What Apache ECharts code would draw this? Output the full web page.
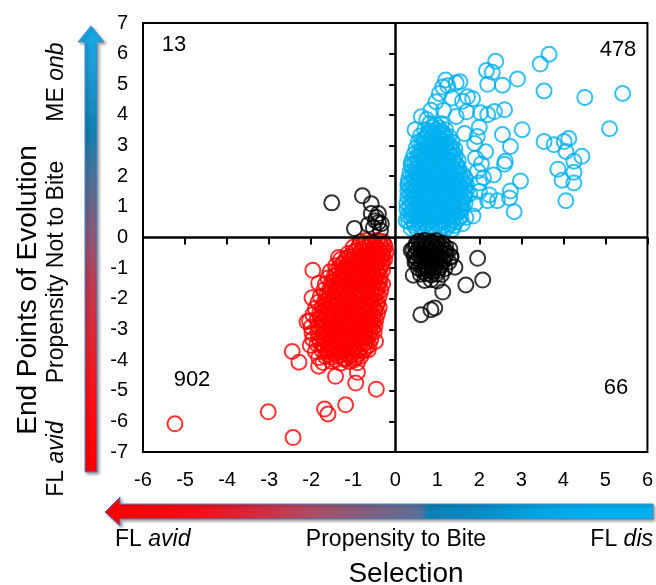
<!DOCTYPE html>
<html>
<head>
<meta charset="utf-8">
<script src="https://cdn.jsdelivr.net/npm/echarts@6.0.0/dist/echarts.min.js"></script>
<style>
  html, body { margin: 0; padding: 0; background: #fff; }
  #chart { width: 656px; height: 585px; }
</style>
</head>
<body>
<div id="chart"></div>
<script>
// axis ticks
const xTicks = [-6, -5, -4, -3, -2, -1, 0, 1, 2, 3, 4, 5, 6]
const yTicks = [-7, -6, -5, -4, -3, -2, -1, 0, 1, 2, 3, 4, 5, 6, 7]

// quadrant counts (upper-left, upper-right, lower-left, lower-right)
const quadrantCounts = ['13', '478', '902', '66']

// red: lower-left quadrant
const redPoints = [
  [-5.24, -6.08], [-3.02, -5.69], [-2.43, -6.53], [-1.68, -5.6], [-1.6, -5.76], [-1.18, -5.46],
  [-0.45, -4.95], [-0.94, -4.75], [-0.9, -4.4], [-2.45, -3.72], [-2.29, -4.07], [-1.96, -1.07],
  [-1.82, -1.49], [-1.98, -1.97], [-2.1, -2.75], [-1.42, -4.53], [-1.82, -4.2], [-0.47, -3.39],
  [-1.35, -0.65],
  [-0.82, -0.14], [-0.68, -0.1], [-0.55, -0.15], [-0.42, -0.09], [-0.3, -0.13],
  [-1.0, -0.32], [-0.86, -0.28], [-0.72, -0.33], [-0.6, -0.27], [-0.47, -0.31], [-0.34, -0.26], [-0.24, -0.3],
  [-1.12, -0.52], [-0.98, -0.47], [-0.84, -0.53], [-0.7, -0.49], [-0.57, -0.51], [-0.44, -0.46], [-0.31, -0.52], [-0.22, -0.48],
  [-1.3, -0.72], [-1.16, -0.68], [-1.02, -0.71], [-0.88, -0.67], [-0.74, -0.73], [-0.61, -0.69], [-0.48, -0.72], [-0.36, -0.68], [-0.25, -0.71],
  [-1.42, -0.92], [-1.27, -0.88], [-1.13, -0.91], [-0.99, -0.87], [-0.85, -0.93], [-0.71, -0.89], [-0.58, -0.92], [-0.45, -0.88], [-0.32, -0.91],
  [-1.55, -1.12], [-1.4, -1.08], [-1.25, -1.11], [-1.1, -1.07], [-0.96, -1.13], [-0.82, -1.09], [-0.68, -1.12], [-0.55, -1.08], [-0.42, -1.11], [-0.3, -1.07],
  [-1.6, -1.32], [-1.46, -1.28], [-1.32, -1.31], [-1.18, -1.27], [-1.04, -1.33], [-0.9, -1.29], [-0.76, -1.32], [-0.62, -1.28], [-0.49, -1.31], [-0.36, -1.27],
  [-1.66, -1.52], [-1.52, -1.48], [-1.38, -1.51], [-1.24, -1.47], [-1.1, -1.53], [-0.96, -1.49], [-0.82, -1.52], [-0.68, -1.48], [-0.54, -1.51], [-0.4, -1.47], [-0.3, -1.52],
  [-1.7, -1.72], [-1.56, -1.68], [-1.42, -1.71], [-1.28, -1.67], [-1.14, -1.73], [-1.0, -1.69], [-0.86, -1.72], [-0.72, -1.68], [-0.58, -1.71], [-0.45, -1.67], [-0.34, -1.72],
  [-1.78, -1.92], [-1.62, -1.88], [-1.48, -1.91], [-1.34, -1.87], [-1.2, -1.93], [-1.06, -1.89], [-0.92, -1.92], [-0.78, -1.88], [-0.64, -1.91], [-0.5, -1.87], [-0.38, -1.92],
  [-1.84, -2.12], [-1.68, -2.08], [-1.54, -2.11], [-1.4, -2.07], [-1.26, -2.13], [-1.12, -2.09], [-0.98, -2.12], [-0.84, -2.08], [-0.7, -2.11], [-0.56, -2.07], [-0.42, -2.12],
  [-1.9, -2.32], [-1.74, -2.28], [-1.6, -2.31], [-1.46, -2.27], [-1.32, -2.33], [-1.18, -2.29], [-1.04, -2.32], [-0.9, -2.28], [-0.76, -2.31], [-0.62, -2.27], [-0.48, -2.32], [-0.38, -2.28],
  [-1.96, -2.52], [-1.8, -2.48], [-1.66, -2.51], [-1.52, -2.47], [-1.38, -2.53], [-1.24, -2.49], [-1.1, -2.52], [-0.96, -2.48], [-0.82, -2.51], [-0.68, -2.47], [-0.54, -2.52], [-0.42, -2.48],
  [-2.04, -2.72], [-1.86, -2.68], [-1.7, -2.71], [-1.56, -2.67], [-1.42, -2.73], [-1.28, -2.69], [-1.14, -2.72], [-1.0, -2.68], [-0.86, -2.71], [-0.72, -2.67], [-0.58, -2.72], [-0.46, -2.68],
  [-2.0, -2.92], [-1.84, -2.88], [-1.7, -2.91], [-1.56, -2.87], [-1.42, -2.93], [-1.28, -2.89], [-1.14, -2.92], [-1.0, -2.88], [-0.86, -2.91], [-0.72, -2.87], [-0.6, -2.92], [-0.48, -2.88],
  [-1.98, -3.12], [-1.84, -3.08], [-1.7, -3.11], [-1.56, -3.07], [-1.42, -3.13], [-1.28, -3.09], [-1.14, -3.12], [-1.0, -3.08], [-0.86, -3.11], [-0.72, -3.07], [-0.6, -3.12], [-0.5, -3.08],
  [-1.96, -3.32], [-1.82, -3.28], [-1.68, -3.31], [-1.54, -3.27], [-1.4, -3.33], [-1.26, -3.29], [-1.12, -3.32], [-0.98, -3.28], [-0.84, -3.31], [-0.7, -3.27], [-0.58, -3.32],
  [-2.02, -3.52], [-1.86, -3.48], [-1.72, -3.51], [-1.58, -3.47], [-1.44, -3.53], [-1.3, -3.49], [-1.16, -3.52], [-1.02, -3.48], [-0.88, -3.51], [-0.74, -3.47], [-0.62, -3.52],
  [-1.9, -3.72], [-1.74, -3.68], [-1.6, -3.71], [-1.46, -3.67], [-1.32, -3.73], [-1.18, -3.69], [-1.04, -3.72], [-0.9, -3.68], [-0.76, -3.71], [-0.64, -3.67],
  [-1.82, -3.92], [-1.66, -3.88], [-1.5, -3.91], [-1.36, -3.87], [-1.22, -3.93], [-1.08, -3.89], [-0.94, -3.92], [-0.82, -3.88],
  [-1.72, -4.08], [-1.52, -4.04], [-1.3, -4.1], [-1.1, -4.05], [-0.9, -4.09],
  [-0.75, -0.22], [-0.61, -0.21], [-0.48, -0.23], [-0.36, -0.2], [-0.26, -0.22],
  [-0.93, -0.42], [-0.79, -0.4], [-0.65, -0.43], [-0.52, -0.41], [-0.39, -0.42], [-0.28, -0.4],
  [-1.09, -0.62], [-0.95, -0.6], [-0.81, -0.63], [-0.67, -0.61], [-0.54, -0.62], [-0.41, -0.6], [-0.3, -0.63],
  [-1.23, -0.82], [-1.09, -0.8], [-0.95, -0.83], [-0.81, -0.81], [-0.67, -0.82], [-0.54, -0.8], [-0.41, -0.83], [-0.3, -0.81],
  [-1.33, -1.02], [-1.19, -1.0], [-1.05, -1.03], [-0.91, -1.01], [-0.77, -1.02], [-0.63, -1.0], [-0.5, -1.03], [-0.37, -1.01],
  [-1.4, -1.22], [-1.26, -1.2], [-1.12, -1.23], [-0.98, -1.21], [-0.84, -1.22], [-0.7, -1.2], [-0.56, -1.23], [-0.43, -1.21],
  [-1.45, -1.42], [-1.31, -1.4], [-1.17, -1.43], [-1.03, -1.41], [-0.89, -1.42], [-0.75, -1.4], [-0.61, -1.43], [-0.47, -1.41], [-0.36, -1.42],
  [-1.5, -1.62], [-1.36, -1.6], [-1.22, -1.63], [-1.08, -1.61], [-0.94, -1.62], [-0.8, -1.6], [-0.66, -1.63], [-0.52, -1.61], [-0.4, -1.62],
  [-1.55, -1.82], [-1.41, -1.8], [-1.27, -1.83], [-1.13, -1.81], [-0.99, -1.82], [-0.85, -1.8], [-0.71, -1.83], [-0.57, -1.81], [-0.44, -1.82],
  [-1.6, -2.02], [-1.46, -2.0], [-1.32, -2.03], [-1.18, -2.01], [-1.04, -2.02], [-0.9, -2.0], [-0.76, -2.03], [-0.62, -2.01], [-0.49, -2.02],
  [-1.66, -2.22], [-1.52, -2.2], [-1.38, -2.23], [-1.24, -2.21], [-1.1, -2.22], [-0.96, -2.2], [-0.82, -2.23], [-0.68, -2.21], [-0.55, -2.22], [-0.44, -2.2],
  [-1.72, -2.42], [-1.58, -2.4], [-1.44, -2.43], [-1.3, -2.41], [-1.16, -2.42], [-1.02, -2.4], [-0.88, -2.43], [-0.74, -2.41], [-0.6, -2.42], [-0.48, -2.4],
  [-1.78, -2.62], [-1.63, -2.6], [-1.49, -2.63], [-1.35, -2.61], [-1.21, -2.62], [-1.07, -2.6], [-0.93, -2.63], [-0.79, -2.61], [-0.65, -2.62], [-0.52, -2.6],
  [-1.77, -2.82], [-1.63, -2.8], [-1.49, -2.83], [-1.35, -2.81], [-1.21, -2.82], [-1.07, -2.8], [-0.93, -2.83], [-0.79, -2.81], [-0.66, -2.82], [-0.54, -2.8],
  [-1.77, -3.02], [-1.63, -3.0], [-1.49, -3.03], [-1.35, -3.01], [-1.21, -3.02], [-1.07, -3.0], [-0.93, -3.03], [-0.79, -3.01], [-0.66, -3.02], [-0.55, -3.0],
  [-1.75, -3.22], [-1.61, -3.2], [-1.47, -3.23], [-1.33, -3.21], [-1.19, -3.22], [-1.05, -3.2], [-0.91, -3.23], [-0.77, -3.21], [-0.64, -3.22],
  [-1.79, -3.42], [-1.65, -3.4], [-1.51, -3.43], [-1.37, -3.41], [-1.23, -3.42], [-1.09, -3.4], [-0.95, -3.43], [-0.81, -3.41], [-0.68, -3.42],
  [-1.67, -3.62], [-1.53, -3.6], [-1.39, -3.63], [-1.25, -3.61], [-1.11, -3.62], [-0.97, -3.6], [-0.83, -3.63], [-0.7, -3.61],
  [-1.58, -3.82], [-1.44, -3.8], [-1.3, -3.83], [-1.16, -3.81], [-1.02, -3.82], [-0.88, -3.8],
  [-1.42, -4.0], [-1.2, -3.98], [-1.0, -4.01]
]

// blue: upper-right quadrant
const bluePoints = [
  [3.66, 5.98], [3.45, 5.66], [2.39, 5.75], [2.17, 5.45], [2.31, 5.39], [2.91, 5.17], [2.55, 4.97],
  [2.2, 5.0], [3.54, 4.78], [4.51, 4.57], [5.41, 4.7], [5.1, 3.55], [3.02, 3.52], [2.55, 3.36],
  [2.74, 2.97], [3.54, 3.13], [3.78, 3.03], [4.02, 3.13], [4.13, 3.23], [4.06, 2.81], [4.44, 2.65],
  [4.25, 2.49], [3.87, 2.23], [4.25, 2.13], [3.97, 1.87], [4.25, 1.78], [4.06, 1.2], [2.62, 2.49],
  [2.6, 2.39], [2.98, 1.84], [2.74, 1.52], [2.72, 1.29], [2.83, 0.84], [2.43, 1.2], [2.34, 2.04],
  [2.24, 1.39], [2.6, 4.17], [2.36, 4.11], [2.2, 4.01], [2.03, 4.07], [1.84, 4.53], [1.72, 4.59],
  [1.54, 5.08], [1.2, 5.14], [1.13, 4.91], [0.97, 4.43], [0.62, 3.94], [0.47, 3.52], [1.89, 3.07],
  [1.91, 2.59], [1.96, 2.17], [2.0, 1.78], [1.77, 1.42], [0.38, 2.39], [0.31, 1.78], [0.26, 0.55],
  [1.65, 3.39], [1.68, 0.65],
  [1.25, 4.95], [1.45, 5.05], [1.05, 4.7], [1.35, 4.55], [1.6, 4.45], [0.85, 4.15], [1.15, 4.15],
  [1.45, 3.95], [1.7, 4.1], [0.75, 3.85], [2.0, 3.6], [1.95, 3.3], [2.15, 2.8], [2.05, 2.4],
  [2.1, 1.95], [2.0, 1.5], [1.9, 1.1], [1.85, 0.7], [1.6, 0.45], [2.2, 1.2],
  [0.38, 0.3], [0.52, 0.26], [0.66, 0.32], [0.8, 0.27], [0.94, 0.33], [1.08, 0.28], [1.22, 0.31], [1.36, 0.27],
  [0.32, 0.52], [0.46, 0.48], [0.6, 0.51], [0.74, 0.47], [0.88, 0.53], [1.02, 0.49], [1.16, 0.52], [1.3, 0.48], [1.44, 0.51],
  [0.3, 0.72], [0.44, 0.68], [0.58, 0.71], [0.72, 0.67], [0.86, 0.73], [1.0, 0.69], [1.14, 0.72], [1.28, 0.68], [1.42, 0.71], [1.56, 0.67],
  [0.28, 0.92], [0.42, 0.88], [0.56, 0.91], [0.7, 0.87], [0.84, 0.93], [0.98, 0.89], [1.12, 0.92], [1.26, 0.88], [1.4, 0.91], [1.56, 0.87],
  [0.28, 1.12], [0.42, 1.08], [0.56, 1.11], [0.7, 1.07], [0.84, 1.13], [0.98, 1.09], [1.12, 1.12], [1.26, 1.08], [1.4, 1.11], [1.55, 1.07], [1.66, 1.12],
  [0.3, 1.32], [0.44, 1.28], [0.58, 1.31], [0.72, 1.27], [0.86, 1.33], [1.0, 1.29], [1.14, 1.32], [1.28, 1.28], [1.42, 1.31], [1.56, 1.27], [1.66, 1.33],
  [0.3, 1.52], [0.44, 1.48], [0.58, 1.51], [0.72, 1.47], [0.86, 1.53], [1.0, 1.49], [1.14, 1.52], [1.28, 1.48], [1.42, 1.51], [1.56, 1.47], [1.7, 1.52],
  [0.3, 1.72], [0.44, 1.68], [0.58, 1.71], [0.72, 1.67], [0.86, 1.73], [1.0, 1.69], [1.14, 1.72], [1.28, 1.68], [1.42, 1.71], [1.56, 1.67], [1.7, 1.72],
  [0.32, 1.92], [0.46, 1.88], [0.6, 1.91], [0.74, 1.87], [0.88, 1.93], [1.02, 1.89], [1.16, 1.92], [1.3, 1.88], [1.44, 1.91], [1.58, 1.87], [1.66, 1.93],
  [0.35, 2.12], [0.49, 2.08], [0.63, 2.11], [0.77, 2.07], [0.91, 2.13], [1.05, 2.09], [1.19, 2.12], [1.33, 2.08], [1.47, 2.11], [1.6, 2.07],
  [0.38, 2.32], [0.52, 2.28], [0.66, 2.31], [0.8, 2.27], [0.94, 2.33], [1.08, 2.29], [1.22, 2.32], [1.36, 2.28], [1.5, 2.31],
  [0.4, 2.52], [0.54, 2.48], [0.68, 2.51], [0.82, 2.47], [0.96, 2.53], [1.1, 2.49], [1.24, 2.52], [1.38, 2.48], [1.5, 2.51],
  [0.45, 2.72], [0.59, 2.68], [0.73, 2.71], [0.87, 2.67], [1.01, 2.73], [1.15, 2.69], [1.29, 2.72], [1.43, 2.68],
  [0.5, 2.92], [0.64, 2.88], [0.78, 2.91], [0.92, 2.87], [1.06, 2.93], [1.2, 2.89], [1.34, 2.92], [1.42, 2.88],
  [0.55, 3.12], [0.69, 3.08], [0.83, 3.11], [0.97, 3.07], [1.11, 3.13], [1.25, 3.09], [1.35, 3.12],
  [0.6, 3.32], [0.74, 3.28], [0.88, 3.31], [1.02, 3.27], [1.16, 3.33], [1.28, 3.29],
  [0.7, 3.52], [0.84, 3.48], [0.98, 3.51], [1.1, 3.47], [1.2, 3.52],
  [0.82, 3.72], [0.96, 3.68], [1.1, 3.71],
  [0.45, 0.4], [0.59, 0.38], [0.73, 0.41], [0.87, 0.39], [1.01, 0.42], [1.15, 0.38], [1.29, 0.41], [1.4, 0.39],
  [0.39, 0.6], [0.53, 0.58], [0.67, 0.61], [0.81, 0.59], [0.95, 0.62], [1.09, 0.58], [1.23, 0.61], [1.37, 0.59], [1.5, 0.62],
  [0.37, 0.8], [0.51, 0.78], [0.65, 0.81], [0.79, 0.79], [0.93, 0.82], [1.07, 0.78], [1.21, 0.81], [1.35, 0.79], [1.49, 0.82],
  [0.35, 1.0], [0.49, 0.98], [0.63, 1.01], [0.77, 0.99], [0.91, 1.02], [1.05, 0.98], [1.19, 1.01], [1.33, 0.99], [1.48, 1.02], [1.6, 0.98],
  [0.37, 1.2], [0.51, 1.18], [0.65, 1.21], [0.79, 1.19], [0.93, 1.22], [1.07, 1.18], [1.21, 1.21], [1.35, 1.19], [1.49, 1.22], [1.6, 1.18],
  [0.37, 1.4], [0.51, 1.38], [0.65, 1.41], [0.79, 1.39], [0.93, 1.42], [1.07, 1.38], [1.21, 1.41], [1.35, 1.39], [1.49, 1.42], [1.63, 1.38],
  [0.37, 1.6], [0.51, 1.58], [0.65, 1.61], [0.79, 1.59], [0.93, 1.62], [1.07, 1.58], [1.21, 1.61], [1.35, 1.59], [1.49, 1.62], [1.63, 1.58],
  [0.39, 1.8], [0.53, 1.78], [0.67, 1.81], [0.81, 1.79], [0.95, 1.82], [1.09, 1.78], [1.23, 1.81], [1.37, 1.79], [1.51, 1.82], [1.62, 1.78],
  [0.42, 2.0], [0.56, 1.98], [0.7, 2.01], [0.84, 1.99], [0.98, 2.02], [1.12, 1.98], [1.26, 2.01], [1.4, 1.99], [1.55, 2.02],
  [0.45, 2.2], [0.59, 2.18], [0.73, 2.21], [0.87, 2.19], [1.01, 2.22], [1.15, 2.18], [1.29, 2.21], [1.43, 2.19], [1.5, 2.22],
  [0.47, 2.4], [0.61, 2.38], [0.75, 2.41], [0.89, 2.39], [1.03, 2.42], [1.17, 2.38], [1.31, 2.41], [1.45, 2.39],
  [0.52, 2.6], [0.66, 2.58], [0.8, 2.61], [0.94, 2.59], [1.08, 2.62], [1.22, 2.58], [1.38, 2.61],
  [0.57, 2.8], [0.71, 2.78], [0.85, 2.81], [0.99, 2.79], [1.13, 2.82], [1.27, 2.78], [1.36, 2.81],
  [0.62, 3.0], [0.76, 2.98], [0.9, 3.01], [1.04, 2.99], [1.18, 3.02], [1.3, 2.98],
  [0.67, 3.2], [0.81, 3.18], [0.95, 3.21], [1.09, 3.19], [1.22, 3.22],
  [0.77, 3.4], [0.91, 3.38], [1.05, 3.41], [1.15, 3.39],
  [0.9, 3.6], [1.04, 3.58]
]

// black: upper-left (13) and lower-right (66) quadrants
const blackPoints = [
  [-1.51, 1.13], [-0.78, 1.36], [-0.57, 1.1], [-0.4, 0.78], [-0.57, 0.78], [-0.47, 0.55], [-0.4, 0.49],
  [-0.97, 0.29], [-0.35, 0.23], [-0.64, 0.42], [-0.52, 0.32], [-0.45, 0.65], [-0.33, 0.45],
  [1.96, -0.68], [2.08, -1.39], [1.68, -1.55], [1.13, -1.78], [0.94, -2.3], [0.85, -2.36], [0.61, -2.52],
  [1.42, -0.97], [1.32, -0.65], [0.43, -1.23], [0.38, -0.42], [0.47, -0.81],
  [0.5, -0.2], [0.62, -0.17], [0.75, -0.22], [0.88, -0.18], [1.0, -0.21], [1.12, -0.19],
  [0.42, -0.4], [0.55, -0.38], [0.68, -0.42], [0.8, -0.37], [0.93, -0.41], [1.05, -0.39], [1.18, -0.42], [1.3, -0.38],
  [0.45, -0.6], [0.58, -0.62], [0.7, -0.58], [0.83, -0.61], [0.96, -0.57], [1.08, -0.62], [1.2, -0.59], [1.33, -0.61],
  [0.5, -0.8], [0.63, -0.78], [0.76, -0.82], [0.89, -0.79], [1.02, -0.81], [1.15, -0.78], [1.28, -0.8],
  [0.55, -1.0], [0.68, -1.02], [0.8, -0.98], [0.93, -1.01], [1.06, -0.97], [1.18, -1.02],
  [0.6, -1.2], [0.73, -1.18], [0.86, -1.22], [0.99, -1.19], [1.1, -1.21],
  [0.7, -1.4], [0.85, -1.38], [1.0, -1.42],
  [0.56, -0.12], [0.7, -0.1], [0.85, -0.13], [0.98, -0.11],
  [0.48, -0.3], [0.6, -0.29], [0.72, -0.31], [0.84, -0.28], [0.96, -0.3], [1.08, -0.29], [1.2, -0.31],
  [0.5, -0.5], [0.62, -0.49], [0.74, -0.51], [0.86, -0.48], [0.98, -0.5], [1.1, -0.49], [1.22, -0.51],
  [0.53, -0.7], [0.65, -0.69], [0.77, -0.71], [0.89, -0.68], [1.01, -0.7], [1.13, -0.69],
  [0.6, -0.9], [0.72, -0.89], [0.84, -0.91], [0.96, -0.88], [1.08, -0.9],
  [0.66, -1.1], [0.78, -1.09], [0.9, -1.11], [1.02, -1.08]
]

const FONT = '"Liberation Sans", Arial, Helvetica, sans-serif'

const chart = echarts.init(document.getElementById('chart'))

const ring = (color) => ({
  color: 'transparent',
  borderColor: color,
  borderWidth: 2
})

const italicRich = { i: { fontStyle: 'italic', fontSize: 23, fontFamily: FONT, fill: '#000' } }

const option = {
  animation: false,
  backgroundColor: '#fff',
  grid: {
    left: 143, right: 5, top: 23, bottom: 133,
    show: true, borderColor: '#000', borderWidth: 2, backgroundColor: 'transparent'
  },
  xAxis: {
    type: 'value',
    min: xTicks[0], max: xTicks[xTicks.length - 1], interval: 1,
    axisLine: { show: false },
    axisTick: { show: true, inside: false, length: 7, lineStyle: { color: '#000', width: 2 } },
    axisLabel: { color: '#000', fontSize: 20, fontFamily: FONT, margin: 18 },
    splitLine: { show: false }
  },
  yAxis: {
    type: 'value',
    min: yTicks[0], max: yTicks[yTicks.length - 1], interval: 1,
    axisLine: { show: false },
    axisTick: { show: true, inside: false, length: 6, lineStyle: { color: '#000', width: 2 } },
    axisLabel: { color: '#000', fontSize: 20, fontFamily: FONT, margin: 15 },
    splitLine: { show: false }
  },
  series: [
    {
      name: 'red', type: 'scatter', data: redPoints,
      symbol: 'circle', symbolSize: 15, itemStyle: ring('#ff0000'), silent: true
    },
    {
      name: 'blue', type: 'scatter', data: bluePoints,
      symbol: 'circle', symbolSize: 15, itemStyle: ring('#00b0f0'), silent: true
    },
    {
      name: 'black', type: 'scatter', data: blackPoints,
      symbol: 'circle', symbolSize: 15, itemStyle: ring('#000000'), silent: true,
      z: 5,
      markLine: {
        silent: true,
        symbol: ['none', 'none'],
        label: { show: false },
        lineStyle: { color: '#000', width: 2.5, type: 'solid' },
        data: [{ xAxis: 0 }, { yAxis: 0 }]
      }
    }
  ],
  graphic: [
    // vertical gradient arrow
    {
      type: 'polygon', z: 10,
      shape: { points: [[91, 26], [104, 42], [97, 42], [97, 472], [85, 472], [85, 42], [78, 42]] },
      style: {
        fill: new echarts.graphic.LinearGradient(0, 0, 0, 1, [
          { offset: 0, color: '#12aee8' },
          { offset: 0.1, color: '#1d9bd4' },
          { offset: 0.24, color: '#137fae' },
          { offset: 0.34, color: '#4b7199' },
          { offset: 0.46, color: '#875a7c' },
          { offset: 0.58, color: '#bf3a52' },
          { offset: 0.72, color: '#e2232f' },
          { offset: 0.85, color: '#fb0d12' },
          { offset: 1, color: '#ff0000' }
        ]),
        stroke: '#4a86c5', lineWidth: 1,
        shadowBlur: 3, shadowOffsetX: 2, shadowOffsetY: 2, shadowColor: 'rgba(0,0,0,0.35)'
      }
    },
    // horizontal gradient arrow
    {
      type: 'polygon', z: 10,
      shape: { points: [[105, 512], [120, 497], [120, 504], [653, 504], [653, 519], [120, 519], [120, 526]] },
      style: {
        fill: new echarts.graphic.LinearGradient(0, 0, 1, 0, [
          { offset: 0, color: '#ff0000' },
          { offset: 0.17, color: '#f50f18' },
          { offset: 0.27, color: '#d8283c' },
          { offset: 0.37, color: '#b04a62' },
          { offset: 0.48, color: '#806080' },
          { offset: 0.575, color: '#5a6f98' },
          { offset: 0.59, color: '#0d80b3' },
          { offset: 0.68, color: '#0a8bc4' },
          { offset: 0.8, color: '#03a6e4' },
          { offset: 0.9, color: '#00b0f0' },
          { offset: 1, color: '#00b0f0' }
        ]),
        stroke: '#4a86c5', lineWidth: 1,
        shadowBlur: 3, shadowOffsetX: 2, shadowOffsetY: 2, shadowColor: 'rgba(0,0,0,0.35)'
      }
    },
    // left titles
    {
      type: 'text', x: 28, y: 290, rotation: Math.PI / 2, z: 10,
      style: { text: 'End Points of Evolution', font: '28px ' + FONT, fill: '#000', align: 'center', verticalAlign: 'middle' }
    },
    {
      type: 'text', x: 57, y: 272, rotation: Math.PI / 2, z: 10,
      style: { text: 'Propensity Not to Bite', font: '23px ' + FONT, fill: '#000', align: 'center', verticalAlign: 'middle' }
    },
    {
      type: 'text', x: 57, y: 82, rotation: Math.PI / 2, z: 10,
      style: { text: 'ME {i|onb}', font: '23px ' + FONT, fill: '#000', align: 'center', verticalAlign: 'middle', rich: italicRich }
    },
    {
      type: 'text', x: 57, y: 459, rotation: Math.PI / 2, z: 10,
      style: { text: 'FL {i|avid}', font: '23px ' + FONT, fill: '#000', align: 'center', verticalAlign: 'middle', rich: italicRich }
    },
    // bottom titles
    {
      type: 'text', x: 115, y: 540, z: 10,
      style: { text: 'FL {i|avid}', font: '23px ' + FONT, fill: '#000', align: 'left', verticalAlign: 'middle', rich: italicRich }
    },
    {
      type: 'text', x: 396, y: 540, z: 10,
      style: { text: 'Propensity to Bite', font: '23px ' + FONT, fill: '#000', align: 'center', verticalAlign: 'middle' }
    },
    {
      type: 'text', x: 653, y: 540, z: 10,
      style: { text: 'FL {i|dis}', font: '23px ' + FONT, fill: '#000', align: 'right', verticalAlign: 'middle', rich: italicRich }
    },
    {
      type: 'text', x: 406, y: 574, z: 10,
      style: { text: 'Selection', font: '28px ' + FONT, fill: '#000', align: 'center', verticalAlign: 'middle' }
    },
    // quadrant counts
    { type: 'text', x: 174, y: 45, z: 10, style: { text: quadrantCounts[0], font: '22px ' + FONT, fill: '#000', align: 'center', verticalAlign: 'middle' } },
    { type: 'text', x: 618, y: 50, z: 10, style: { text: quadrantCounts[1], font: '22px ' + FONT, fill: '#000', align: 'center', verticalAlign: 'middle' } },
    { type: 'text', x: 192, y: 380, z: 10, style: { text: quadrantCounts[2], font: '22px ' + FONT, fill: '#000', align: 'center', verticalAlign: 'middle' } },
    { type: 'text', x: 616, y: 388, z: 10, style: { text: quadrantCounts[3], font: '22px ' + FONT, fill: '#000', align: 'center', verticalAlign: 'middle' } }
  ]
}

chart.setOption(option)
</script>
</body>
</html>
